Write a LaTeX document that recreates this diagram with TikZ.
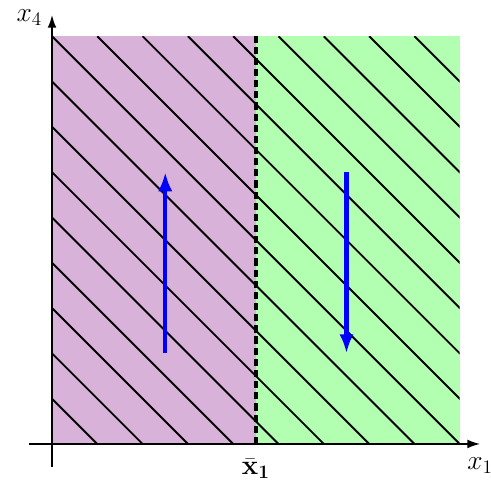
\documentclass[tikz,border=0pt]{standalone}
\usepackage{amsmath,amssymb}
\usetikzlibrary{arrows.meta}

\begin{document}
\begin{tikzpicture}[x=1cm, y=1cm, every node/.style={font=\fontsize{18}{21}\selectfont}, >={Latex[length=8pt,width=5.5pt]},
	hatch/.style={black, line width=1.2pt},
	flow/.style={blue, line width=2.6pt, -{Latex[length=12pt,width=9pt]}}]
	\useasboundingbox (-1.148,-0.927) rectangle (9.69,9.80);
	\fill[violet!30] (0,0) rectangle (4.5,9);
	\fill[green!30] (4.5,0) rectangle (9,9);
	\begin{scope}
		\clip (0,0) rectangle (9,9);
		\foreach \c in {1,...,17}
			\draw[hatch] (\c-9,9) -- (\c,0);
	\end{scope}
	\draw[black, line width=2.3pt, dash pattern=on 4.5pt off 2.5pt] (4.5,0) -- (4.5,9);
	\draw[->, line width=1pt] (-0.5,0) -- (9.45,0);
	\draw[->, line width=1pt] (0,-0.5) -- (0,9.47);
	\node (xfour) at (-0.5,9.42) {$x_4$};
	\node (xone) at (9.45,-0.47) {$x_1$};
	\node (xbar) at (4.5,-0.55) {$\bar{\mathbf{x}}_{\mathbf{1}}$};
	\coordinate (upA) at (2.5,2);
	\coordinate (upB) at (2.5,6);
	\coordinate (downA) at (6.5,6);
	\coordinate (downB) at (6.5,2);
	\draw[flow] (upA) -- (upB);
	\draw[flow] (downA) -- (downB);
\end{tikzpicture}
\end{document}
